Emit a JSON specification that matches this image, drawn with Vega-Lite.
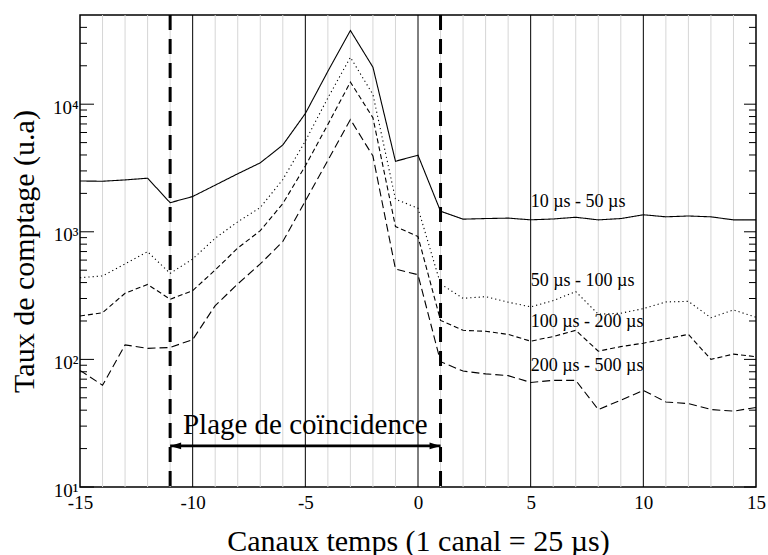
{
  "$schema": "https://vega.github.io/schema/vega-lite/v6.json",
  "width": 676,
  "height": 472,
  "autosize": "none",
  "padding": {"left": 80, "top": 15, "right": 12, "bottom": 68},
  "background": "white",
  "config": {
    "font": "Liberation Serif",
    "view": {"stroke": "black", "strokeWidth": 1.5},
    "axis": {"domain": false, "labelFont": "Liberation Serif", "titleFont": "Liberation Serif"},
    "text": {"font": "Liberation Serif"}
  },
  "datasets": {
    "series": [
      {"s": "a", "x": -15, "y": 2500}, {"s": "a", "x": -14, "y": 2490}, {"s": "a", "x": -13, "y": 2550}, {"s": "a", "x": -12, "y": 2630},
      {"s": "a", "x": -11, "y": 1690}, {"s": "a", "x": -10, "y": 1890}, {"s": "a", "x": -9, "y": 2320}, {"s": "a", "x": -8, "y": 2850},
      {"s": "a", "x": -7, "y": 3470}, {"s": "a", "x": -6, "y": 4790}, {"s": "a", "x": -5, "y": 8450}, {"s": "a", "x": -4, "y": 18100},
      {"s": "a", "x": -3, "y": 37800}, {"s": "a", "x": -2, "y": 19500}, {"s": "a", "x": -1, "y": 3570}, {"s": "a", "x": 0, "y": 3980},
      {"s": "a", "x": 1, "y": 1450}, {"s": "a", "x": 2, "y": 1256}, {"s": "a", "x": 3, "y": 1270}, {"s": "a", "x": 4, "y": 1280},
      {"s": "a", "x": 5, "y": 1241}, {"s": "a", "x": 6, "y": 1260}, {"s": "a", "x": 7, "y": 1300}, {"s": "a", "x": 8, "y": 1240},
      {"s": "a", "x": 9, "y": 1270}, {"s": "a", "x": 10, "y": 1360}, {"s": "a", "x": 11, "y": 1310}, {"s": "a", "x": 12, "y": 1330},
      {"s": "a", "x": 13, "y": 1310}, {"s": "a", "x": 14, "y": 1240}, {"s": "a", "x": 15, "y": 1240},

      {"s": "b", "x": -15, "y": 437}, {"s": "b", "x": -14, "y": 451}, {"s": "b", "x": -13, "y": 560}, {"s": "b", "x": -12, "y": 698},
      {"s": "b", "x": -11, "y": 472}, {"s": "b", "x": -10, "y": 612}, {"s": "b", "x": -9, "y": 891}, {"s": "b", "x": -8, "y": 1197},
      {"s": "b", "x": -7, "y": 1550}, {"s": "b", "x": -6, "y": 2570}, {"s": "b", "x": -5, "y": 5140}, {"s": "b", "x": -4, "y": 11200},
      {"s": "b", "x": -3, "y": 23300}, {"s": "b", "x": -2, "y": 11900}, {"s": "b", "x": -1, "y": 1800}, {"s": "b", "x": 0, "y": 1530},
      {"s": "b", "x": 1, "y": 390}, {"s": "b", "x": 2, "y": 301}, {"s": "b", "x": 3, "y": 310}, {"s": "b", "x": 4, "y": 281},
      {"s": "b", "x": 5, "y": 258}, {"s": "b", "x": 6, "y": 289}, {"s": "b", "x": 7, "y": 340}, {"s": "b", "x": 8, "y": 226},
      {"s": "b", "x": 9, "y": 230}, {"s": "b", "x": 10, "y": 250}, {"s": "b", "x": 11, "y": 282}, {"s": "b", "x": 12, "y": 285},
      {"s": "b", "x": 13, "y": 212}, {"s": "b", "x": 14, "y": 244}, {"s": "b", "x": 15, "y": 214},

      {"s": "c", "x": -15, "y": 219}, {"s": "c", "x": -14, "y": 232}, {"s": "c", "x": -13, "y": 330}, {"s": "c", "x": -12, "y": 387},
      {"s": "c", "x": -11, "y": 296}, {"s": "c", "x": -10, "y": 346}, {"s": "c", "x": -9, "y": 502}, {"s": "c", "x": -8, "y": 746},
      {"s": "c", "x": -7, "y": 1020}, {"s": "c", "x": -6, "y": 1664}, {"s": "c", "x": -5, "y": 3280}, {"s": "c", "x": -4, "y": 6940},
      {"s": "c", "x": -3, "y": 14900}, {"s": "c", "x": -2, "y": 7820}, {"s": "c", "x": -1, "y": 1100}, {"s": "c", "x": 0, "y": 918},
      {"s": "c", "x": 1, "y": 202}, {"s": "c", "x": 2, "y": 169}, {"s": "c", "x": 3, "y": 166}, {"s": "c", "x": 4, "y": 157},
      {"s": "c", "x": 5, "y": 139}, {"s": "c", "x": 6, "y": 151}, {"s": "c", "x": 7, "y": 169}, {"s": "c", "x": 8, "y": 116},
      {"s": "c", "x": 9, "y": 126}, {"s": "c", "x": 10, "y": 134}, {"s": "c", "x": 11, "y": 145}, {"s": "c", "x": 12, "y": 157},
      {"s": "c", "x": 13, "y": 100}, {"s": "c", "x": 14, "y": 110}, {"s": "c", "x": 15, "y": 105},

      {"s": "d", "x": -15, "y": 82}, {"s": "d", "x": -14, "y": 62.7}, {"s": "d", "x": -13, "y": 130}, {"s": "d", "x": -12, "y": 122},
      {"s": "d", "x": -11, "y": 124}, {"s": "d", "x": -10, "y": 143}, {"s": "d", "x": -9, "y": 264}, {"s": "d", "x": -8, "y": 390},
      {"s": "d", "x": -7, "y": 560}, {"s": "d", "x": -6, "y": 839}, {"s": "d", "x": -5, "y": 1746}, {"s": "d", "x": -4, "y": 3630},
      {"s": "d", "x": -3, "y": 7590}, {"s": "d", "x": -2, "y": 3925}, {"s": "d", "x": -1, "y": 511}, {"s": "d", "x": 0, "y": 461},
      {"s": "d", "x": 1, "y": 96}, {"s": "d", "x": 2, "y": 81}, {"s": "d", "x": 3, "y": 77}, {"s": "d", "x": 4, "y": 74.6},
      {"s": "d", "x": 5, "y": 66}, {"s": "d", "x": 6, "y": 68.5}, {"s": "d", "x": 7, "y": 68.5}, {"s": "d", "x": 8, "y": 40.5},
      {"s": "d", "x": 9, "y": 47.8}, {"s": "d", "x": 10, "y": 57.2}, {"s": "d", "x": 11, "y": 46.4}, {"s": "d", "x": 12, "y": 45},
      {"s": "d", "x": 13, "y": 40.5}, {"s": "d", "x": 14, "y": 39.3}, {"s": "d", "x": 15, "y": 42}
    ],
    "labels": [
      {"x": 5, "y": 1570, "t": "10 µs - 50 µs"},
      {"x": 5, "y": 374, "t": "50 µs - 100 µs"},
      {"x": 5, "y": 179, "t": "100 µs - 200 µs"},
      {"x": 5, "y": 81, "t": "200 µs - 500 µs"}
    ],
    "grid": [
      {"g": -14, "k": "minor"}, {"g": -13, "k": "minor"}, {"g": -12, "k": "minor"}, {"g": -11, "k": "minor"},
      {"g": -10, "k": "major"}, {"g": -9, "k": "minor"}, {"g": -8, "k": "minor"}, {"g": -7, "k": "minor"},
      {"g": -6, "k": "minor"}, {"g": -5, "k": "major"}, {"g": -4, "k": "minor"}, {"g": -3, "k": "minor"},
      {"g": -2, "k": "minor"}, {"g": -1, "k": "minor"}, {"g": 0, "k": "major"}, {"g": 1, "k": "minor"},
      {"g": 2, "k": "minor"}, {"g": 3, "k": "minor"}, {"g": 4, "k": "minor"}, {"g": 5, "k": "major"},
      {"g": 6, "k": "minor"}, {"g": 7, "k": "minor"}, {"g": 8, "k": "minor"}, {"g": 9, "k": "minor"},
      {"g": 10, "k": "major"}, {"g": 11, "k": "minor"}, {"g": 12, "k": "minor"}, {"g": 13, "k": "minor"},
      {"g": 14, "k": "minor"}
    ],
    "yticks": [
      {"v": 10, "k": "major"}, {"v": 20, "k": "minor"}, {"v": 30, "k": "minor"}, {"v": 40, "k": "minor"}, {"v": 50, "k": "minor"},
      {"v": 60, "k": "minor"}, {"v": 70, "k": "minor"}, {"v": 80, "k": "minor"}, {"v": 90, "k": "minor"},
      {"v": 100, "k": "major"}, {"v": 200, "k": "minor"}, {"v": 300, "k": "minor"}, {"v": 400, "k": "minor"}, {"v": 500, "k": "minor"},
      {"v": 600, "k": "minor"}, {"v": 700, "k": "minor"}, {"v": 800, "k": "minor"}, {"v": 900, "k": "minor"},
      {"v": 1000, "k": "major"}, {"v": 2000, "k": "minor"}, {"v": 3000, "k": "minor"}, {"v": 4000, "k": "minor"}, {"v": 5000, "k": "minor"},
      {"v": 6000, "k": "minor"}, {"v": 7000, "k": "minor"}, {"v": 8000, "k": "minor"}, {"v": 9000, "k": "minor"},
      {"v": 10000, "k": "major"}, {"v": 20000, "k": "minor"}, {"v": 30000, "k": "minor"}, {"v": 40000, "k": "minor"}
    ]
  },
  "layer": [
    {
      "data": {"name": "grid"},
      "transform": [{"filter": "datum.k == 'minor'"}],
      "mark": {"type": "rule", "color": "#d6d6d6", "strokeWidth": 1},
      "encoding": {
        "x": {
          "field": "g", "type": "quantitative",
          "scale": {"domain": [-15, 15], "nice": false, "zero": false},
          "axis": {
            "orient": "bottom",
            "values": [-15, -10, -5, 0, 5, 10, 15],
            "grid": false,
            "ticks": false,
            "labelExpr": "'' + datum.value",
            "labelFontSize": 19,
            "labelColor": "black",
            "labelPadding": 6,
            "labelFlush": false,
            "labelOverlap": false,
            "title": "Canaux temps (1 canal = 25 µs)",
            "titleFontSize": 30,
            "titleFontWeight": "normal",
            "titleColor": "black",
            "titleY": 63,
            "titleBaseline": "alphabetic"
          }
        }
      }
    },
    {
      "data": {"name": "grid"},
      "transform": [{"filter": "datum.k == 'major'"}],
      "mark": {"type": "rule", "color": "#000000", "strokeWidth": 1},
      "encoding": {
        "x": {"field": "g", "type": "quantitative"}
      }
    },
    {
      "data": {"name": "series"},
      "mark": {"type": "line", "color": "black", "strokeWidth": 1.1},
      "encoding": {
        "x": {"field": "x", "type": "quantitative"},
        "y": {
          "field": "y", "type": "quantitative",
          "scale": {"type": "log", "domain": [10, 50000], "nice": false},
          "axis": {
            "orient": "left",
            "values": [10, 100, 1000, 10000],
            "grid": false,
            "ticks": false,
            "labelExpr": "datum.value == 10 ? '10¹' : datum.value == 100 ? '10²' : datum.value == 1000 ? '10³' : '10⁴'",
            "labelFontSize": 19,
            "labelColor": "black",
            "labelPadding": 2,
            "labelOffset": 3,
            "labelFlush": false,
            "labelOverlap": false,
            "title": "Taux de comptage (u.a)",
            "titleFontSize": 30,
            "titleFontWeight": "normal",
            "titleColor": "black",
            "titleX": -47,
            "titleBaseline": "alphabetic"
          }
        },
        "strokeDash": {
          "field": "s", "type": "nominal",
          "scale": {"domain": ["a", "b", "c", "d"], "range": [[1, 0], [1.2, 3], [5, 3], [8, 4]]},
          "legend": null
        }
      }
    },
    {
      "data": {"name": "yticks"},
      "transform": [{"filter": "datum.k == 'major'"}],
      "mark": {"type": "rule", "color": "black", "strokeWidth": 1, "x2Offset": 14},
      "encoding": {
        "y": {"field": "v", "type": "quantitative"},
        "x": {"datum": -15, "type": "quantitative"},
        "x2": {"datum": -15}
      }
    },
    {
      "data": {"name": "yticks"},
      "transform": [{"filter": "datum.k == 'minor'"}],
      "mark": {"type": "rule", "color": "black", "strokeWidth": 1, "x2Offset": 7},
      "encoding": {
        "y": {"field": "v", "type": "quantitative"},
        "x": {"datum": -15, "type": "quantitative"},
        "x2": {"datum": -15}
      }
    },
    {
      "data": {"name": "yticks"},
      "transform": [{"filter": "datum.k == 'major'"}],
      "mark": {"type": "rule", "color": "black", "strokeWidth": 1, "x2Offset": -12},
      "encoding": {
        "y": {"field": "v", "type": "quantitative"},
        "x": {"datum": 15, "type": "quantitative"},
        "x2": {"datum": 15}
      }
    },
    {
      "data": {"name": "yticks"},
      "transform": [{"filter": "datum.k == 'minor'"}],
      "mark": {"type": "rule", "color": "black", "strokeWidth": 1, "x2Offset": -7},
      "encoding": {
        "y": {"field": "v", "type": "quantitative"},
        "x": {"datum": 15, "type": "quantitative"},
        "x2": {"datum": 15}
      }
    },
    {
      "data": {"values": [{"x": -11}, {"x": 1}]},
      "mark": {"type": "rule", "color": "black", "strokeWidth": 3, "strokeDash": [15, 9]},
      "encoding": {
        "x": {"field": "x", "type": "quantitative"}
      }
    },
    {
      "data": {"values": [{"x1": -11, "x2": 1, "y": 21}]},
      "mark": {"type": "rule", "color": "black", "strokeWidth": 2.6},
      "encoding": {
        "x": {"field": "x1", "type": "quantitative"},
        "x2": {"field": "x2"},
        "y": {"field": "y", "type": "quantitative"}
      }
    },
    {
      "data": {"values": [{"x": -11, "y": 21, "d": "L"}, {"x": 1, "y": 21, "d": "R"}]},
      "mark": {"type": "point", "filled": true, "color": "black", "opacity": 1, "size": 121},
      "encoding": {
        "x": {"field": "x", "type": "quantitative"},
        "y": {"field": "y", "type": "quantitative"},
        "shape": {
          "field": "d", "type": "nominal",
          "scale": {"domain": ["L", "R"], "range": ["M0,0L2,-0.6L2,0.6Z", "M0,0L-2,-0.6L-2,0.6Z"]},
          "legend": null
        }
      }
    },
    {
      "data": {"values": [{"x": -5, "y": 26, "t": "Plage de coïncidence"}]},
      "mark": {"type": "text", "font": "Liberation Serif", "fontSize": 29, "align": "center", "baseline": "alphabetic", "color": "black"},
      "encoding": {
        "x": {"field": "x", "type": "quantitative"},
        "y": {"field": "y", "type": "quantitative"},
        "text": {"field": "t"}
      }
    },
    {
      "data": {"name": "labels"},
      "mark": {"type": "text", "font": "Liberation Serif", "fontSize": 18, "align": "left", "baseline": "alphabetic", "color": "black"},
      "encoding": {
        "x": {"field": "x", "type": "quantitative"},
        "y": {"field": "y", "type": "quantitative"},
        "text": {"field": "t"}
      }
    }
  ]
}
